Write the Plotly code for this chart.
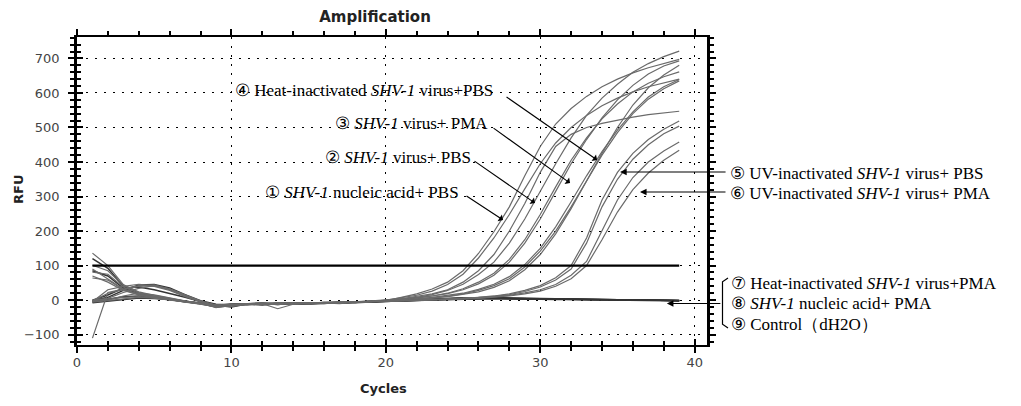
import plotly.graph_objects as go

# DATA (RFU per cycle)
#----------------------------------------------------------------
cycles = list(range(1, 40))
threshold = 100

# amplifying wells
a1 = [136, 100, 45, 22, 10, 2, -5, -10, -18, -14, -10, -12, -10, -8, -10, -7, -8, -6, -5, -2,
      8, 18, 32, 52, 85, 135, 198, 270, 360, 445, 510, 555, 590, 618, 640, 658, 673, 686, 697]
a2 = [81, 75, 38, 20, 12, 4, -4, -10, -20, -16, -12, -10, -13, -9, -8, -10, -7, -6, -4, 0,
      6, 14, 26, 45, 75, 122, 180, 248, 322, 395, 455, 500, 535, 563, 585, 603, 618, 630, 640]
a3 = [-5, 30, 40, 46, 42, 30, 12, -4, -15, -18, -12, -11, -9, -12, -8, -9, -7, -5, -4, -1,
      4, 10, 18, 30, 52, 85, 132, 200, 280, 370, 445, 480, 500, 512, 522, 530, 537, 542, 547]
a4 = [64, 58, 30, 18, 10, 3, -2, -9, -16, -12, -14, -10, -25, -12, -9, -8, -10, -6, -5, -3,
      3, 8, 16, 28, 46, 74, 110, 165, 235, 315, 395, 470, 535, 585, 625, 660, 685, 705, 721]
a5 = [101, 85, 42, 24, 14, 5, -3, -8, -22, -15, -11, -13, -10, -8, -11, -9, -6, -7, -4, -2,
      2, 6, 12, 20, 33, 52, 78, 118, 175, 248, 328, 405, 470, 525, 568, 603, 628, 647, 661]
a6 = [-3, 20, 30, 40, 44, 32, 14, -2, -14, -17, -10, -12, -9, -11, -7, -8, -9, -6, -3, -1,
      3, 7, 12, 19, 30, 47, 72, 110, 165, 235, 315, 395, 465, 528, 580, 622, 655, 678, 693]
a7 = [-110, 22, 32, 42, 40, 28, 10, -6, -20, -12, -13, -9, -11, -10, -8, -7, -9, -5, -4, -2,
      1, 4, 8, 13, 20, 31, 46, 68, 103, 150, 212, 285, 360, 430, 492, 545, 588, 618, 639]
a8 = [0, 5, 22, 34, 42, 33, 15, -3, -18, -15, -10, -11, -12, -8, -9, -10, -6, -7, -3, -1,
      0, 3, 7, 11, 18, 28, 42, 62, 96, 142, 200, 270, 345, 420, 485, 540, 582, 612, 635]
a9 = [-2, 3, 8, 10, 8, 3, -3, -9, -16, -13, -12, -10, -10, -9, -11, -8, -7, -6, -4, -2,
      0, 2, 6, 10, 16, 24, 37, 56, 88, 132, 192, 265, 345, 425, 500, 565, 615, 652, 680]
uv_pbs1 = [90, 62, 32, 16, 8, 0, -6, -12, -19, -12, -11, -12, -9, -10, -8, -9, -7, -5, -4, -3,
           -2, 0, 1, 3, 5, 8, 12, 18, 28, 42, 65, 100, 180, 290, 370, 425, 465, 495, 519]
uv_pbs2 = [-4, 0, 12, 20, 15, 6, -2, -9, -17, -14, -10, -9, -11, -8, -10, -7, -6, -5, -3, -2,
           -1, 0, 2, 3, 5, 7, 11, 16, 25, 38, 58, 90, 165, 270, 350, 408, 450, 482, 504]
uv_pma1 = [70, 52, 28, 15, 6, 0, -5, -11, -15, -18, -12, -10, -10, -12, -8, -8, -6, -6, -4, -3,
           -2, -1, 1, 2, 4, 6, 9, 14, 21, 30, 45, 72, 112, 200, 290, 355, 400, 432, 458]
uv_pma2 = [-6, -2, 4, 8, 6, 2, -4, -10, -14, -12, -13, -11, -9, -10, -9, -8, -7, -5, -5, -3,
           -2, -1, 0, 2, 3, 5, 8, 12, 18, 26, 40, 62, 100, 175, 255, 320, 368, 405, 434]

# flat wells (7, 8, 9)
f1 = [-5, 2, 10, 12, 8, 3, -3, -8, -15, -12, -10, -9, -11, -8, -9, -7, -8, -5, -4, -3,
      -2, 0, 2, 3, 4, 5, 5, 4, 4, 3, 3, 2, 2, 2, 1, 1, 0, 0, -1]
f2 = [85, 70, 35, 18, 8, 1, -5, -10, -20, -16, -12, -14, -10, -9, -12, -9, -8, -7, -6, -4,
      -3, -1, 1, 2, 4, 6, 6, 5, 4, 3, 3, 3, 2, 1, 1, 0, 0, -1, -2]
f3 = [-2, 8, 28, 44, 45, 35, 16, -2, -12, -14, -11, -12, -10, -12, -9, -8, -9, -6, -5, -4,
      -2, 1, 3, 5, 7, 8, 7, 6, 5, 4, 3, 3, 2, 2, 1, 0, 0, -1, -2]
f4 = [-8, -4, 2, 6, 5, 2, -4, -9, -13, -20, -11, -10, -9, -11, -10, -9, -6, -8, -5, -3,
      -2, 0, 1, 3, 4, 5, 4, 4, 3, 3, 2, 2, 1, 1, 0, 0, -1, -1, -2]
f5 = [120, 92, 40, 20, 10, 2, -4, -9, -16, -13, -11, -9, -13, -9, -8, -8, -9, -6, -4, -3,
      -1, 1, 3, 4, 6, 7, 7, 6, 5, 4, 3, 2, 2, 1, 1, 1, 0, -1, -1]
f6 = [0, 15, 35, 38, 30, 20, 8, -4, -14, -12, -12, -11, -10, -9, -10, -7, -7, -6, -4, -3,
      -2, 0, 2, 3, 5, 6, 6, 5, 4, 4, 3, 2, 2, 1, 1, 0, 0, -1, -1]

amp_curves = [a1, a2, a3, a4, a5, a6, a7, a8, a9, uv_pbs1, uv_pbs2, uv_pma1, uv_pma2]
flat_curves = [f1, f2, f3, f4, f5, f6]

# PLOT
#----------------------------------------------------------------
fig = go.Figure()
for c in flat_curves:
    fig.add_trace(go.Scatter(x=cycles, y=c, mode='lines', line=dict(color='#333333', width=1.5),
                             hoverinfo='skip'))
for c in amp_curves:
    fig.add_trace(go.Scatter(x=cycles, y=c, mode='lines', line=dict(color='#6a6a6a', width=1.2),
                             hoverinfo='skip'))
# threshold line
fig.add_trace(go.Scatter(x=[cycles[0], cycles[-1]], y=[threshold, threshold], mode='lines',
                         line=dict(color='black', width=2.2), hoverinfo='skip'))
# dummy trace so the overlay axes (inner tick marks) get drawn
fig.add_trace(go.Scatter(x=[None], y=[None], xaxis='x2', yaxis='y2', hoverinfo='skip'))

xr = [0, 40.8]
yr = [-130, 762]
tickfont = dict(family='DejaVu Sans, Verdana', size=13, color='#444')

fig.update_xaxes(range=xr, tickvals=[0, 10, 20, 30, 40], showline=True, linecolor='black',
                 linewidth=2, mirror='allticks', ticks='outside', ticklen=6, tickwidth=1.5,
                 tickcolor='black', minor=dict(dtick=2, ticks='outside', ticklen=4, tickcolor='black'),
                 showgrid=True, gridcolor='black', griddash='2px,7px', gridwidth=1.3,
                 zeroline=False, tickfont=tickfont, ticklabelstandoff=-2)
fig.update_yaxes(range=yr, tickvals=[-100, 0, 100, 200, 300, 400, 500, 600, 700], showline=True,
                 linecolor='black', linewidth=2.5, mirror='allticks', ticks='outside', ticklen=6,
                 tickwidth=1.5, tickcolor='black',
                 minor=dict(dtick=20, tick0=0, ticks='outside', ticklen=4, tickcolor='black'),
                 showgrid=True, gridcolor='black', griddash='2px,7px', gridwidth=1.3,
                 zeroline=False, tickfont=tickfont, ticklabelstandoff=6)

# page has an 8px body margin, so the canvas is 16px smaller than the window
fig.update_layout(
    width=1005, height=390,
    margin=dict(l=69, r=306, t=29, b=53),
    plot_bgcolor='white', paper_bgcolor='white',
    showlegend=False,
    title=dict(text='<b>Amplification</b>', x=(375 - 77) / 630, xref='paper', xanchor='center',
               y=1 - 9 / 390, yanchor='middle',
               font=dict(family='DejaVu Sans, Verdana', size=15, color='#222')),
    xaxis2=dict(overlaying='x', range=xr, showticklabels=False, showgrid=False, zeroline=False,
                tickvals=[0, 10, 20, 30, 40], ticks='inside', ticklen=6, tickwidth=1.5,
                tickcolor='black', minor=dict(dtick=2, ticks='inside', ticklen=4, tickcolor='black')),
    yaxis2=dict(overlaying='y', range=yr, showticklabels=False, showgrid=False, zeroline=False,
                tickvals=[-100, 0, 100, 200, 300, 400, 500, 600, 700], ticks='inside', ticklen=6,
                tickwidth=1.5, tickcolor='black',
                minor=dict(dtick=20, tick0=0, ticks='inside', ticklen=4, tickcolor='black')),
)

# axis titles
axfont = dict(family='DejaVu Sans, Verdana', size=13, color='#222')
fig.add_annotation(text='<b>RFU</b>', xref='paper', yref='paper', x=(18 - 77) / 630, y=(345 - 190) / 308,
                   xanchor='center', yanchor='middle', showarrow=False, textangle=-90, font=axfont)
fig.add_annotation(text='<b>Cycles</b>', xref='paper', yref='paper', x=(383 - 77) / 630, y=(345 - 388) / 308,
                   xanchor='center', yanchor='middle', showarrow=False, font=axfont)

# labels with arrows
lab = dict(family='Liberation Serif, Times New Roman, serif', size=17, color='black')
labels_left = [
    ('④ Heat-inactivated <i>SHV-1</i> virus+PBS', 233, 90),
    ('③ <i>SHV-1</i> virus+ PMA', 333, 123),
    ('② <i>SHV-1</i> virus+ PBS', 323, 157),
    ('① <i>SHV-1</i> nucleic acid+ PBS', 263, 192),
]
labels_right = [
    ('⑤ UV-inactivated <i>SHV-1</i> virus+ PBS', 728, 173),
    ('⑥ UV-inactivated <i>SHV-1</i> virus+ PMA', 728, 193),
    ('⑦ Heat-inactivated <i>SHV-1</i> virus+PMA', 729, 283),
    ('⑧ <i>SHV-1</i> nucleic acid+ PMA', 729, 303),
    ('⑨ Control（dH2O）', 729, 324),
]
for txt, px, py in labels_left + labels_right:
    fig.add_annotation(text=txt, xref='paper', yref='paper', x=(px - 77) / 630, y=(345 - py) / 308,
                       xanchor='left', yanchor='middle', showarrow=False, font=lab)

# arrows: tip in data coords, tail offset in px
arrows = [
    (33.68, 406, -92, -64, 1),
    (31.93, 339, -78, -56, 1),
    (29.66, 281, -62, -43, 1),
    (27.59, 232, -38, -25, 1),
    (35.17, 371, 107, 0, 2),
    (36.46, 313, 87, 0, 2),
    (38.2, -10, 55, 0, 2),
]
for x, y, ax, ay, head in arrows:
    fig.add_annotation(x=x, y=y, ax=ax, ay=ay, text='', showarrow=True, arrowhead=head,
                       arrowsize=1.2, arrowwidth=1.1, arrowcolor='black')

# bracket for 7/8/9
x0 = (722.5 - 77) / 630
x1 = (728 - 77) / 630
yt = (345 - 278) / 308
yb = (345 - 328) / 308
fig.add_shape(type='path', xref='paper', yref='paper',
              path=f'M {x1},{yt} L {x0},{yt - 0.012} L {x0},{yb + 0.012} L {x1},{yb}',
              line=dict(color='black', width=1.2))

fig.write_html("out.html")
